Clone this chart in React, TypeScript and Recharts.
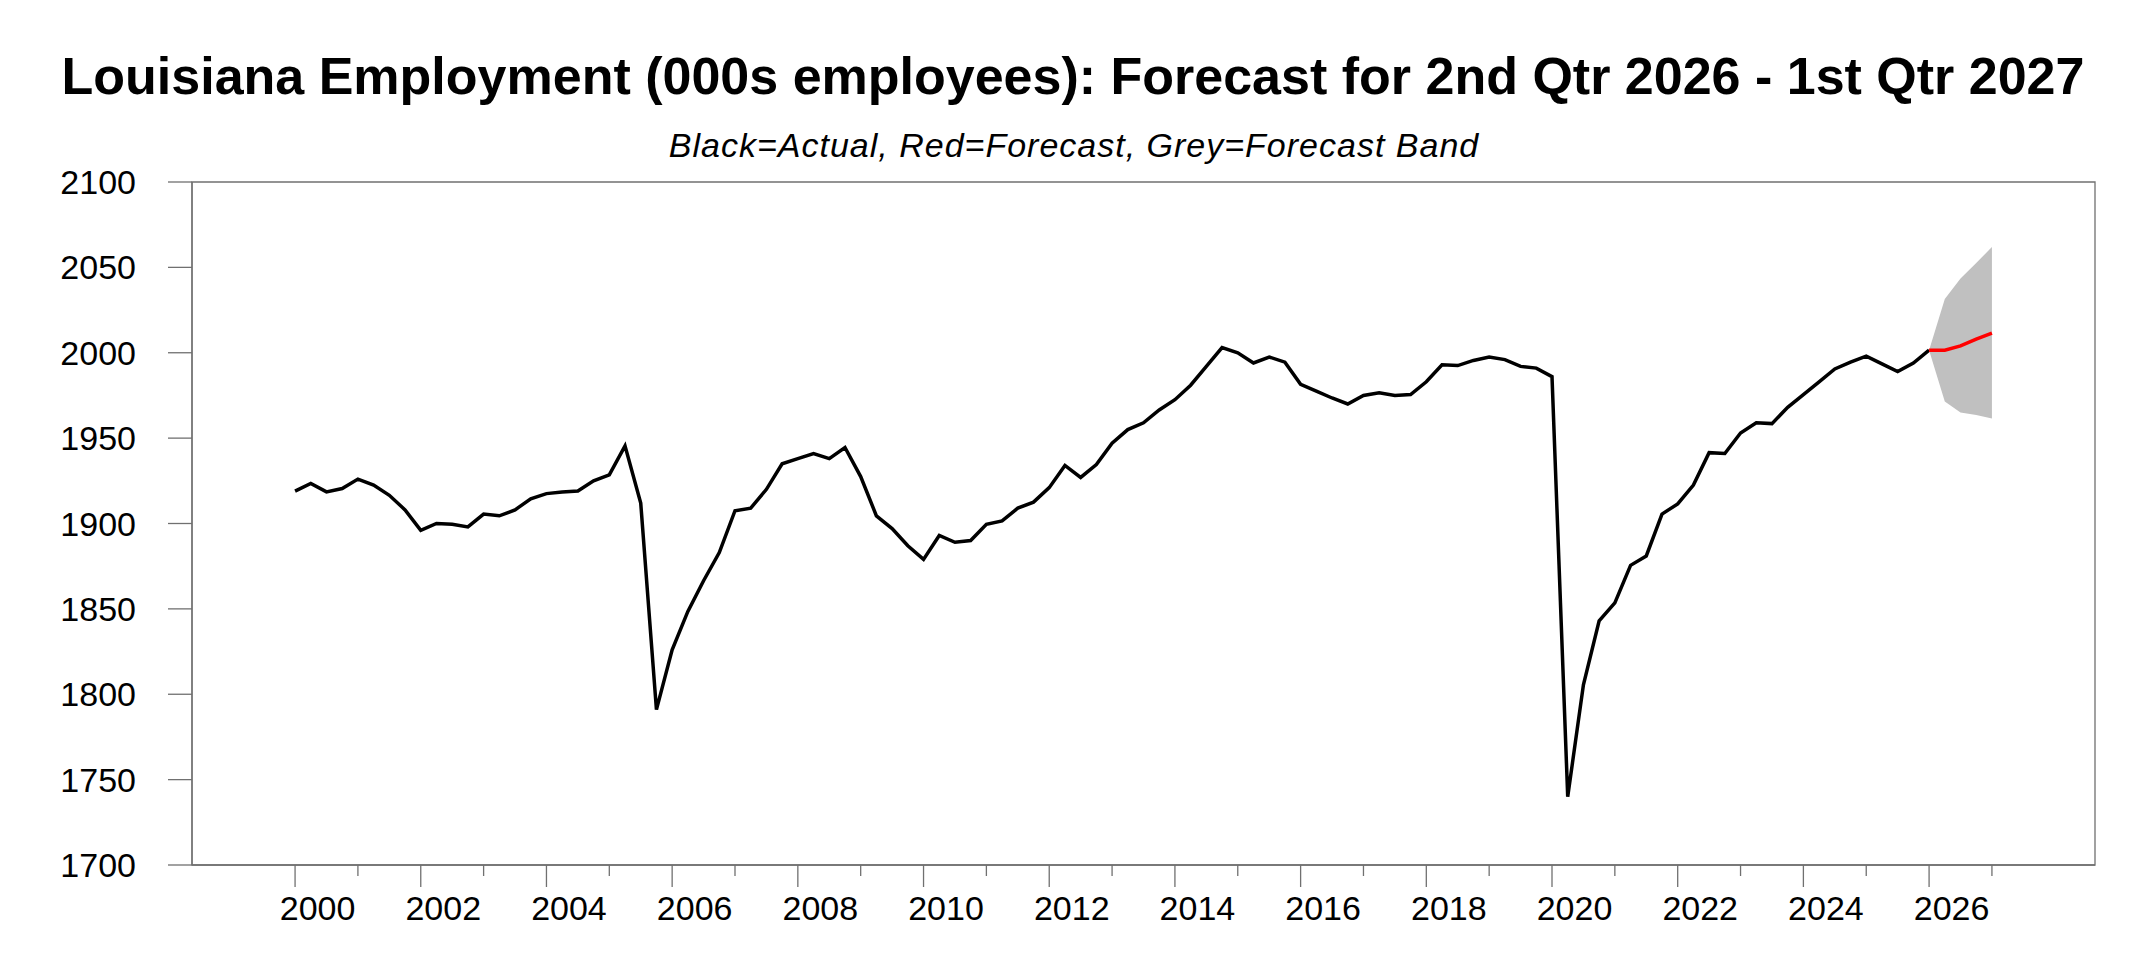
import React from 'react';
import { ComposedChart, Line, Area, XAxis, YAxis, ReferenceArea } from 'recharts';

// quarterly, 2000Q1 .. 2026Q1 (000s employees)
const actual = [
  1919, 1923.5, 1918.5, 1920.5, 1926, 1922.5, 1916.5, 1908, 1896, 1900,
  1899.5, 1898, 1905.5, 1904.5, 1908, 1914.5, 1917.5, 1918.5, 1919, 1925,
  1928.5, 1945.5, 1912, 1791, 1826, 1848.5, 1866.5, 1883, 1907.5, 1909,
  1920, 1935, 1938, 1941, 1938, 1944.5, 1927.5, 1904.5, 1897, 1887,
  1879, 1893, 1889, 1890, 1899.5, 1901.5, 1909, 1912.5, 1921, 1934,
  1927, 1934.5, 1947, 1955, 1959, 1966.5, 1972.5, 1981, 1992, 2003,
  2000, 1994, 1997.5, 1994.5, 1981.5, 1977.5, 1973.5, 1970, 1975, 1976.5,
  1975, 1975.5, 1983, 1993, 1992.5, 1995.5, 1997.5, 1996, 1992, 1991,
  1986, 1740, 1805.5, 1843, 1853.5, 1875.5, 1881, 1905.5, 1911.5, 1922.5,
  1941.5, 1941, 1953, 1959, 1958.5, 1968, 1975.5, 1983, 1990.5, 1994.5,
  1998, 1993.5, 1989, 1994, 2001.5,
];

// 2026Q1 (last actual) .. 2027Q1
const forecast = [2001.5, 2001.5, 2004, 2008, 2011.5];
const bandHigh = [2001.5, 2031.5, 2043.5, 2052.5, 2062];
const bandLow = [2001.5, 1971.5, 1965, 1963.5, 1961.5];

const yearTicks = [
  2000, 2001, 2002, 2003, 2004, 2005, 2006, 2007, 2008, 2009, 2010, 2011, 2012, 2013,
  2014, 2015, 2016, 2017, 2018, 2019, 2020, 2021, 2022, 2023, 2024, 2025, 2026, 2027,
];
const valueTicks = [1700, 1750, 1800, 1850, 1900, 1950, 2000, 2050, 2100];

const START_YEAR = 2000;
const X_MIN = 1998.36;
const X_MAX = 2028.64;
const AXIS = '#707070';
const FONT = '"Liberation Sans", Arial, Helvetica, sans-serif';

const fcStart = actual.length - 1;
const data = [];
for (let i = 0; i < fcStart + forecast.length; i++) {
  const f = i - fcStart;
  data.push({
    t: START_YEAR + i / 4,
    actual: i < actual.length ? actual[i] : undefined,
    forecast: f >= 0 ? forecast[f] : undefined,
    band: f >= 0 ? [bandLow[f], bandHigh[f]] : undefined,
  });
}

const YearTick = (props: any) => {
  const { x, y, payload } = props;
  const year = payload.value;
  const major = year % 2 === 0;
  return (
    <g>
      <line x1={x} y1={y} x2={x} y2={y + (major ? 22 : 11)} stroke={AXIS} strokeWidth={1.3} />
      {major && (
        <text x={x + 22.5} y={y + 54.5} textAnchor="middle" fontSize={34} fill="#000" fontFamily={FONT}>
          {year}
        </text>
      )}
    </g>
  );
};

export default function App() {
  return (
    <div style={{ position: 'absolute', left: 0, top: 0, width: 2150, height: 979, background: '#fff' }}>
      <ComposedChart
        width={2150}
        height={979}
        data={data}
        margin={{ top: 182, right: 55, bottom: 0, left: 0 }}
      >
        <XAxis
          dataKey="t"
          type="number"
          domain={[X_MIN, X_MAX]}
          ticks={yearTicks}
          interval={0}
          allowDataOverflow
          height={114}
          tickSize={0}
          tickMargin={0}
          tickLine={false}
          axisLine={{ stroke: AXIS, strokeWidth: 1.3 }}
          tick={<YearTick />}
        />
        <YAxis
          type="number"
          domain={[1700, 2100]}
          ticks={valueTicks}
          interval={0}
          width={192}
          tickSize={24}
          tickMargin={32}
          axisLine={{ stroke: AXIS, strokeWidth: 1.3 }}
          tickLine={{ stroke: AXIS, strokeWidth: 1.3 }}
          tick={{ fontSize: 34, fill: '#000', fontFamily: FONT }}
        />
        <ReferenceArea x1={X_MIN} x2={X_MAX} y1={1700} y2={2100} fill="none" stroke={AXIS} strokeWidth={1.3} />
        <Area
          dataKey="band"
          stroke="none"
          fill="#c0c0c0"
          fillOpacity={1}
          isAnimationActive={false}
          activeDot={false}
        />
        <Line
          dataKey="actual"
          stroke="#000"
          strokeWidth={3.5}
          dot={false}
          activeDot={false}
          isAnimationActive={false}
        />
        <Line
          dataKey="forecast"
          stroke="#ff0000"
          strokeWidth={3.5}
          dot={false}
          activeDot={false}
          isAnimationActive={false}
        />
      </ComposedChart>
      <svg
        width={2150}
        height={200}
        style={{ position: 'absolute', left: 0, top: 0, pointerEvents: 'none' }}
      >
        <text x={1073} y={94} textAnchor="middle" fontSize={52} fontWeight="bold" fill="#000" fontFamily={FONT}>
          Louisiana Employment (000s employees): Forecast for 2nd Qtr 2026 - 1st Qtr 2027
        </text>
        <text
          x={1074}
          y={157}
          textAnchor="middle"
          fontSize={34}
          fontStyle="italic"
          letterSpacing={1}
          fill="#000"
          fontFamily={FONT}
        >
          Black=Actual, Red=Forecast, Grey=Forecast Band
        </text>
      </svg>
    </div>
  );
}
